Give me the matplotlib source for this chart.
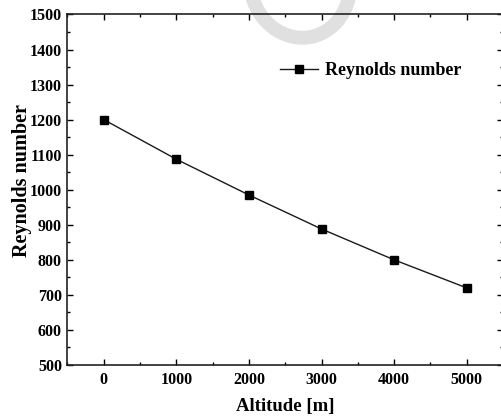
import matplotlib
matplotlib.use("Agg")
import matplotlib.pyplot as plt
from matplotlib.patches import Ellipse
from matplotlib.ticker import MultipleLocator

# data
altitude = [0, 1000, 2000, 3000, 4000, 5000]
reynolds = [1200, 1087, 985, 888, 800, 720]

plt.rcParams['font.family'] = ['Liberation Serif', 'DejaVu Serif']
plt.rcParams['font.weight'] = 'bold'

fig = plt.figure(figsize=(5.02, 4.19), dpi=100)

# faint watermark arc behind the plot
bg = fig.add_axes([0, 0, 1, 1], zorder=0)
bg.set_xlim(0, 502)
bg.set_ylim(419, 0)
bg.axis('off')
bg.add_patch(Ellipse((300, -18), 100, 112, angle=-12, fill=False,
                     edgecolor='#e0e0e0', lw=10))

ax = fig.add_axes([67.5 / 502, 54 / 419, 435.5 / 502, 350.5 / 419], zorder=1)
ax.patch.set_alpha(0)

ax.plot(altitude, reynolds, color='#1a1a1a', lw=1.0, marker='s', ms=6,
        mfc='black', mec='black', label='Reynolds number')

ax.set_xlim(-500, 5500)
ax.set_ylim(500, 1500)
ax.xaxis.set_major_locator(MultipleLocator(1000))
ax.xaxis.set_minor_locator(MultipleLocator(500))
ax.yaxis.set_major_locator(MultipleLocator(100))
ax.yaxis.set_minor_locator(MultipleLocator(50))

ax.tick_params(which='both', direction='in', top=True, right=True,
               width=1.0, labelsize=11.5)
ax.tick_params(which='major', length=4.5)
ax.tick_params(which='minor', length=2.5)
ax.tick_params(axis='x', pad=5)
ax.tick_params(axis='y', pad=4)
for lab in ax.get_xticklabels() + ax.get_yticklabels():
    lab.set_fontweight('bold')
for sp in ax.spines.values():
    sp.set_linewidth(1.2)
    sp.set_color('#222222')

ax.set_xlabel('Altitude [m]', fontsize=13.5, fontweight='bold', labelpad=7)
ax.set_ylabel('Reynolds number', fontsize=14.5, fontweight='bold')
ax.yaxis.set_label_coords(-0.082, 0.525)

ax.legend(frameon=False, loc='center left', bbox_to_anchor=(0.488, 0.839),
          borderpad=0, borderaxespad=0, handlelength=2.1, handletextpad=0.4,
          prop={'family': 'Liberation Serif', 'weight': 'bold', 'size': 13})

fig.savefig('out.png', dpi=100)
